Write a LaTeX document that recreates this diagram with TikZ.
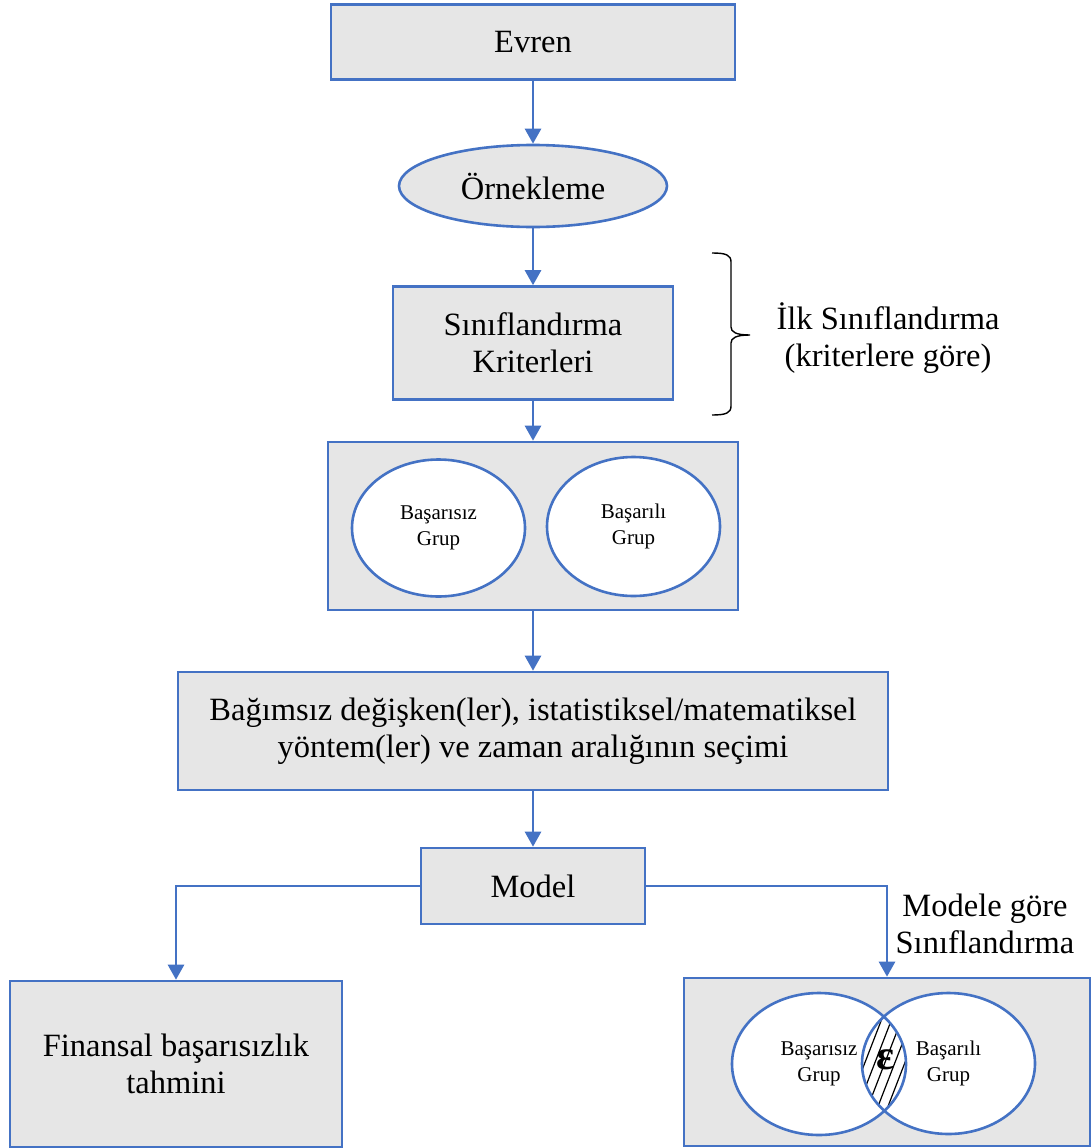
\documentclass[tikz,border=0pt]{standalone}
\usepackage{fontspec}
\setmainfont{Liberation Serif}
\usetikzlibrary{arrows.meta,shapes.geometric}
\definecolor{bblue}{HTML}{4472C4}
\definecolor{bgray}{HTML}{E6E6E6}
\newcommand{\mainfs}{\fontsize{32.5}{37}\selectfont}
\newcommand{\smallfs}{\fontsize{21}{25.5}\selectfont}
\tikzset{
  box/.style={draw=bblue, fill=bgray, line width=2.6pt, align=center, inner sep=0pt, font=\mainfs},
  oval/.style={ellipse, draw=bblue, fill=bgray, line width=2.6pt, align=center, inner sep=0pt, font=\mainfs},
  grp/.style={ellipse, fill=white, align=center, inner sep=0pt, font=\smallfs},
  grpline/.style={draw=bblue, line width=2.6pt},
  arr/.style={draw=bblue, line width=2.6pt, -{Triangle[width=16pt,length=15pt]}},
  lbl/.style={align=center, font=\mainfs, inner sep=0pt},
}
\begin{document}
\begin{tikzpicture}[x=1pt, y=-1pt]
\useasboundingbox[fill=white] (0,0) rectangle (1091,1148);

\node[box, minimum width=404pt, minimum height=75pt] (evren) at (533,42) {Evren};
\node[oval, minimum width=268pt, minimum height=82pt] (ornek) at (533,186) {Örnekleme};
\node[box, minimum width=280pt, minimum height=113pt] (sinif) at (533,343) {Sınıflandırma\\Kriterleri};
\node[box, minimum width=410pt, minimum height=168pt] (grup) at (533,526) {};
\node[grp, draw=bblue, line width=2.6pt, minimum width=173pt, minimum height=137pt] (gL) at (438.5,528) {Başarısız\\Grup};
\node[grp, draw=bblue, line width=2.6pt, minimum width=173pt, minimum height=139pt] (gR) at (633.5,526.5) {Başarılı\\Grup};
\node[box, minimum width=710pt, minimum height=118pt] (secim) at (533,731) {Bağımsız değişken(ler), istatistiksel/matematiksel\\yöntem(ler) ve zaman aralığının seçimi};
\node[box, minimum width=224pt, minimum height=76pt] (model) at (533,886) {Model};
\node[box, minimum width=332pt, minimum height=166pt] (tahmin) at (176,1064) {Finansal başarısızlık\\tahmini};
\node[box, minimum width=406pt, minimum height=168pt] (sonuc) at (887,1062) {};

% Venn diagram
\node[grp, minimum width=174pt, minimum height=142pt] (vL) at (819,1064) {Başarısız\\Grup};
\node[grp, minimum width=173pt, minimum height=141pt] (vR) at (948.5,1063.5) {Başarılı\\Grup};
\begin{scope}
  \clip (819,1064) ellipse [x radius=87, y radius=71];
  \clip (948.5,1063.5) ellipse [x radius=86.5, y radius=70.5];
  \foreach \i in {815,825,...,895} {
    \draw[line width=1.2pt] (\i,1140) -- ++(58,-150);
  }
\end{scope}
\draw[grpline] (819,1064) ellipse [x radius=87, y radius=71];
\draw[grpline] (948.5,1063.5) ellipse [x radius=86.5, y radius=70.5];
\node[inner sep=0pt, font=\fontsize{42}{42}\selectfont\bfseries] (eps) at (885,1060) {ε};

% connectors
\draw[arr] (evren.south) -- (ornek.north);
\draw[arr] (ornek.south) -- (sinif.north);
\draw[arr] (sinif.south) -- (grup.north);
\draw[arr] (grup.south) -- (secim.north);
\draw[arr] (secim.south) -- (model.north);
\draw[arr] (model.west) -| (tahmin.north);
\draw[arr] (model.east) -| (sonuc.north);

% brace
\draw[line width=1.4pt] (712,253) .. controls (726,253) and (731,255) .. (731,262) -- (731,327)
  .. controls (731,332) and (736,335) .. (750,335)
  .. controls (736,335) and (731,338) .. (731,343) -- (731,406)
  .. controls (731,413) and (726,415) .. (712,415);

% labels
\node[lbl] (ilk) at (888,338) {İlk Sınıflandırma\\(kriterlere göre)};
\node[lbl] (modele) at (985,924) {Modele göre\\Sınıflandırma};
\end{tikzpicture}
\end{document}
